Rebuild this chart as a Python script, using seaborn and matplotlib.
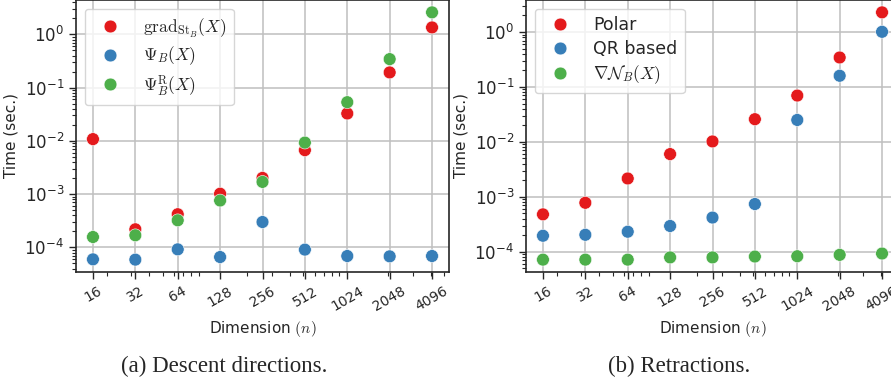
import numpy as np
import pandas as pd
import seaborn as sns
import matplotlib.pyplot as plt
from matplotlib.ticker import FixedLocator, FixedFormatter, LogLocator, NullFormatter

#   problem sizes (x axis)
dims = [16, 32, 64, 128, 256, 512, 1024, 2048, 4096]
dim_labels = [str(d) for d in dims]

#   (a) descent directions, seconds
grad_st = [0.0108, 2.19e-4, 4.2e-4, 1.02e-3, 2.02e-3, 6.7e-3, 0.0327, 0.193, 1.35]
psi_b = [5.97e-5, 5.9e-5, 9.2e-5, 6.6e-5, 3.0e-4, 9.1e-5, 6.9e-5, 6.8e-5, 6.9e-5]
psi_b_r = [1.57e-4, 1.69e-4, 3.23e-4, 7.6e-4, 1.70e-3, 9.3e-3, 0.0533, 0.343, 2.59]
labels_a = [r'$\mathrm{grad}_{\mathrm{St}_B}(X)$', r'$\Psi_B(X)$', r'$\Psi_B^{\mathrm{R}}(X)$']

#   (b) retractions, seconds
polar = [4.8e-4, 7.8e-4, 2.16e-3, 6.0e-3, 0.0102, 0.0259, 0.0698, 0.344, 2.28]
qr_based = [1.96e-4, 2.04e-4, 2.32e-4, 2.95e-4, 4.2e-4, 7.4e-4, 0.0251, 0.16, 1.01]
nabla_n = [7.2e-5, 7.2e-5, 7.2e-5, 7.9e-5, 7.9e-5, 8.2e-5, 8.3e-5, 8.8e-5, 9.3e-5]
labels_b = ['Polar', 'QR based', r'$\nabla \mathcal{N}_B(X)$']

colors = ['#e41a1c', '#377eb8', '#4daf4a']

sns.set_style('whitegrid', {
    'axes.edgecolor': '.15',
    'grid.color': '.75',
    'xtick.bottom': True,
    'ytick.left': True,
})
plt.rcParams['font.family'] = ['DejaVu Sans']
plt.rcParams['mathtext.fontset'] = 'cm'


def long_frame(series, names):
    rows = []
    for vals, nm in zip(series, names):
        for d, v in zip(dims, vals):
            rows.append({'dim': d, 'time': v, 'method': nm})
    return pd.DataFrame(rows)


def panel(ax, df, names):
    sns.scatterplot(data=df, x='dim', y='time', hue='method', hue_order=names,
                    palette=colors, s=85, edgecolor='white', linewidth=0.4,
                    ax=ax, zorder=3)
    ax.set_xscale('log')
    ax.set_yscale('log')
    ax.xaxis.set_major_locator(FixedLocator(dims))
    ax.xaxis.set_major_formatter(FixedFormatter(dim_labels))
    ax.xaxis.set_minor_locator(LogLocator(base=10, subs=np.arange(2, 10)))
    ax.xaxis.set_minor_formatter(NullFormatter())
    ax.yaxis.set_minor_locator(LogLocator(base=10, subs=np.arange(2, 10), numticks=20))
    ax.yaxis.set_minor_formatter(NullFormatter())
    for lab in ax.get_xticklabels():
        lab.set_rotation(30)
        lab.set_fontsize(10)
    ax.tick_params(axis='y', which='major', labelsize=12)
    ax.tick_params(which='major', length=5, width=1.0, color='.15')
    ax.tick_params(which='minor', length=3, width=0.8, color='.15')
    ax.grid(True, which='major', linewidth=1.1)
    for sp in ax.spines.values():
        sp.set_linewidth(1.2)
    ax.set_xlabel(r'Dimension $(n)$', fontsize=11)
    ax.set_ylabel('Time (sec.)', fontsize=11)
    handles, _ = ax.get_legend_handles_labels()
    ax.legend(handles, names, loc='upper left', fontsize=12.5, frameon=True,
              handletextpad=0.9, labelspacing=0.3, borderpad=0.45,
              markerscale=1.0, framealpha=0.8, edgecolor='.8')


fig = plt.figure(figsize=(8.91, 3.81), dpi=100)
ax1 = fig.add_axes([76 / 891, 109 / 381, 373 / 891, 272 / 381])
ax2 = fig.add_axes([526 / 891, 109 / 381, 373 / 891, 272 / 381])

panel(ax1, long_frame([grad_st, psi_b, psi_b_r], labels_a), labels_a)
panel(ax2, long_frame([polar, qr_based, nabla_n], labels_b), labels_b)

fig.text(224 / 891, 1 - 366 / 381, '(a) Descent directions.', ha='center', va='center',
         family='Liberation Serif', fontsize=16.5)
fig.text(679 / 891, 1 - 366 / 381, '(b) Retractions.', ha='center', va='center',
         family='Liberation Serif', fontsize=16.5)

fig.savefig('out.png', dpi=100)
